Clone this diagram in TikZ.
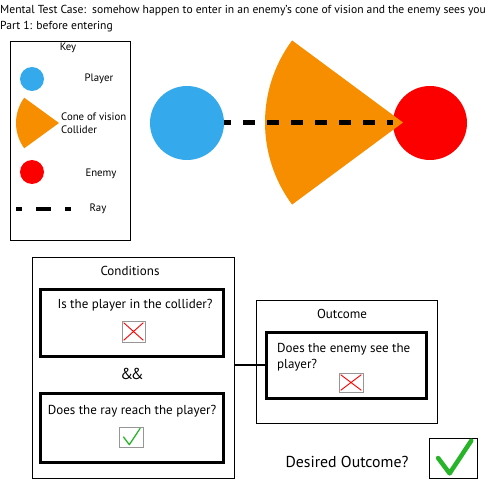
\documentclass[tikz,border=0pt]{standalone}
\usepackage{fontspec}
\setmainfont{PT Sans}
\usetikzlibrary{positioning,calc}
\definecolor{ink}{RGB}{0,0,0}
\definecolor{sky}{RGB}{52,170,236}
\definecolor{amber}{RGB}{246,142,0}
\definecolor{scarlet}{RGB}{252,0,0}
\definecolor{leaf}{RGB}{40,180,40}
\definecolor{boxgray}{RGB}{150,150,150}
\tikzset{
  label/.style={font=\fontsize{13}{16}\selectfont,text=ink,inner sep=0pt},
  keylabel/.style={font=\fontsize{10.8}{13}\selectfont,text=ink,inner sep=0pt},
  headlabel/.style={font=\fontsize{11.6}{14}\selectfont,text=ink,inner sep=0pt},
  biglabel/.style={font=\fontsize{15.8}{18}\selectfont,text=ink,inner sep=0pt},
  ball/.style={circle,inner sep=0pt,minimum size=#1},
  panel/.style={draw=ink,line width=1pt,inner sep=0pt},
  querybox/.style={draw=ink,line width=3pt,inner sep=0pt},
  tickbox/.style={draw=boxgray,line width=0.6pt,inner sep=0pt},
  raydash/.style={line width=5pt,ink,dash pattern=on 12pt off 12pt},
  cross/.style={scarlet,line width=0.9pt},
  tick/.pic={\draw[leaf,line width=#1,line cap=round,line join=round]
    (-0.31,0) -- (-0.07,0.32) -- (0.38,-0.36);}
}

\begin{document}
\begin{tikzpicture}[x=1pt,y=-1pt]
  \useasboundingbox (0,0) rectangle (490,481);
  % heading
  \node[headlabel,anchor=west] (title) at (0,11)
    {Mental Test Case:\ \ somehow happen to enter in an enemy's cone of vision and the enemy sees you};
  \node[headlabel,anchor=west] (part) at (0,27) {Part 1: before entering};

  % key
  \node[panel,minimum width=120,minimum height=199] (key) at (70,141.5) {};
  \node[keylabel] (keytitle) at (68,48) {Key};
  \node[ball=24,fill=sky] (keyplayer) at (32,79) {};
  \node[keylabel] (keyplayertxt) at (99,79) {Player};
  \fill[amber] (59,123) -- ++(144:43) arc[start angle=144,end angle=216,radius=43] -- cycle;
  \node[keylabel,anchor=west,align=left] (keyconetxt) at (61,123.5) {Cone of vision\\Collider};
  \node[ball=24,fill=scarlet] (keyenemy) at (32,172) {};
  \node[keylabel] (keyenemytxt) at (101,174) {Enemy};
  \coordinate (keyrayA) at (16,209);
  \coordinate (keyrayB) at (71,209);
  \draw[line width=4pt,dash pattern=on 15pt off 14pt,dash phase=9pt] (keyrayA) -- (keyrayB);
  \node[keylabel] (keyraytxt) at (98,209) {Ray};

  % scene
  \node[ball=74,fill=sky] (player) at (187,123) {};
  \node[ball=74,fill=scarlet] (enemy) at (430,123) {};
  \coordinate (apex) at (403,122.5);
  \fill[amber] (apex) -- ++(143.5:138) arc[start angle=143.5,end angle=216.5,radius=138] -- cycle;
  \draw[raydash,dash phase=5pt] (player.east) -- (enemy.west);

  % conditions
  \node[panel,minimum width=202,minimum height=220] (cond) at (133,368) {};
  \node[label] (condtitle) at (130,271) {Conditions};
  \node[querybox,minimum width=183,minimum height=67] (inside) at (131.5,322.5) {};
  \node[label] (insidetxt) at (135,305) {Is the player in the collider?};
  \node[tickbox,minimum width=23,minimum height=21] (insidebox) at (133.5,331.5) {};
  \node[biglabel] (andand) at (132,374) {\&\kern-2.5pt\&};
  \node[querybox,minimum width=183,minimum height=69] (reach) at (131.5,427.5) {};
  \node[label] (reachtxt) at (132,411) {Does the ray reach the player?};
  \node[tickbox,minimum width=24,minimum height=20] (reachbox) at (131,437) {};
  \pic[scale=24] at (reachbox) {tick=1.3pt};

  % outcome
  \node[panel,minimum width=181,minimum height=123] (outcome) at (346.5,361.5) {};
  \node[label] (outcometitle) at (342,314) {Outcome};
  \node[querybox,minimum width=160,minimum height=66] (sees) at (346,365) {};
  \node[label,anchor=west,align=left] (seestxt) at (277,357) {Does the enemy see the\\player?};
  \node[tickbox,minimum width=24,minimum height=19] (seesbox) at (351,382.5) {};
  \draw[line width=1.5pt] (cond.east |- sees.west) -- (sees.west);

  \foreach \b in {insidebox,seesbox}
    \draw[cross] ($(\b.north west)+(2,2)$) -- ($(\b.south east)+(-2,-2)$)
                 ($(\b.south west)+(2,-2)$) -- ($(\b.north east)+(-2,2)$);

  % desired
  \node[biglabel] (desired) at (347,462) {Desired Outcome?};
  \node[panel,minimum width=48,minimum height=40] (desiredbox) at (453,458) {};
  \pic[scale=48] at (desiredbox) {tick=4.5pt};
\end{tikzpicture}
\end{document}
